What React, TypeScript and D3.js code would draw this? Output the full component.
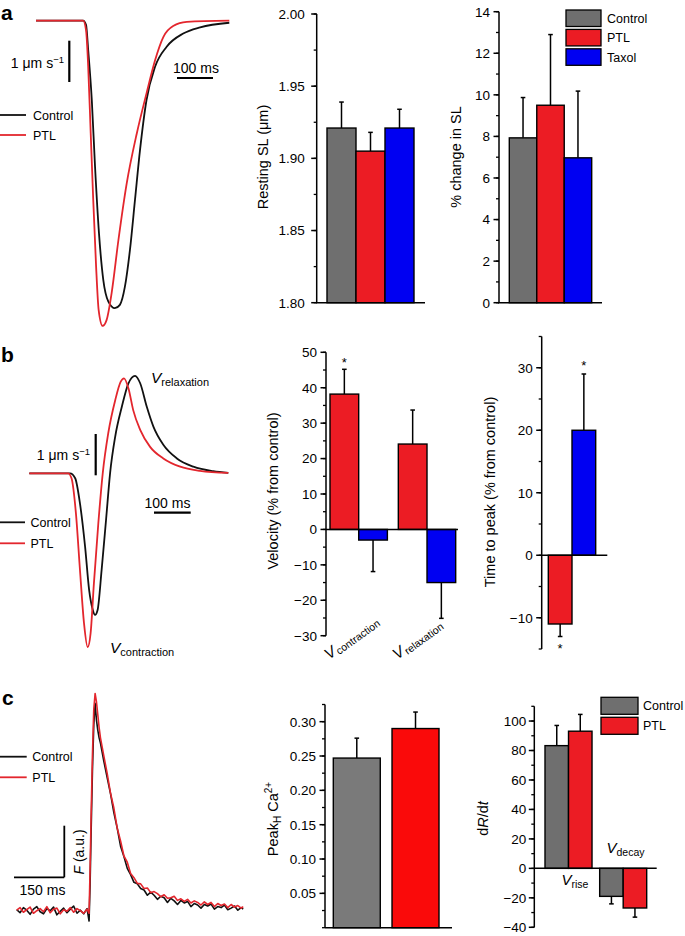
import React from 'react';
import * as d3 from 'd3';

const FONT = "'Liberation Sans', Arial, Helvetica, sans-serif";
const GRAY = '#6f6f6f';
const RED = '#ec1c24';
const BLUE = '#0000f2';
const PEAK_GRAY = '#7a7a7a';
const PEAK_RED = '#fa0a0a';
const TRACE_RED = '#e3262d';
const BLACK = '#111';

// ---------- panel a traces (time ms, velocity um/s) ----------
const aCtrlT = [0, 131, 139, 145, 155, 164, 175, 187, 201, 219, 233, 247, 261, 275, 289, 307, 331, 363, 409, 456, 537];
const aCtrlV = [0, 0, -0.1, -0.71, -1.92, -3.53, -5.15, -6.28, -6.8, -6.96, -6.88, -6.44, -5.55, -4.34, -3.13, -1.92, -1.11, -0.63, -0.31, -0.16, -0.05];
const aPtlT = [0, 131, 139, 145, 152, 159, 167, 174, 185, 196, 210, 229, 252, 280, 307, 331, 354, 381, 419, 537];
const aPtlV = [0, 0, -0.23, -1.11, -2.73, -4.34, -5.96, -7.0, -7.39, -7.25, -6.6, -5.31, -3.94, -2.73, -1.76, -0.95, -0.39, -0.13, -0.03, 0];

// ---------- panel b traces ----------
const bCtrlT = [0, 111, 125, 138, 152, 163, 173, 179, 186, 197, 209, 220, 234, 252, 270, 288, 302, 320, 338, 365, 402, 447, 501, 542];
const bCtrlV = [0, 0, -0.12, -0.73, -1.78, -2.83, -3.31, -3.43, -3.31, -2.34, -1.13, 0, 0.89, 1.61, 2.18, 2.36, 2.18, 1.61, 1.13, 0.69, 0.36, 0.16, 0.05, 0.01];
const bPtlT = [0, 106, 115, 127, 138, 149, 159, 167, 176, 188, 200, 215, 234, 249, 258, 270, 283, 302, 329, 365, 411, 465, 542];
const bPtlV = [0, 0, -0.12, -0.97, -2.34, -3.63, -4.21, -3.87, -2.66, -1.21, 0, 0.97, 1.77, 2.22, 2.3, 2.06, 1.53, 1.05, 0.64, 0.36, 0.16, 0.06, 0.01];

// ---------- panel c traces (time ms, F a.u.) ----------
const cT = [0, 10, 20, 30, 40, 50, 60, 70, 80, 90, 100, 110, 120, 130, 140, 150, 160, 170, 180, 190, 200, 210,
  216, 219, 222, 226, 230, 234, 238, 242, 246, 250,
  260, 270, 280, 290, 300, 310, 320, 330, 340, 350, 360, 370, 380, 390, 400, 410, 420, 430, 440, 450, 460, 470,
  480, 490, 500, 510, 520, 530, 540, 550, 560, 570, 580, 590, 600, 610, 620, 630, 640, 650, 660, 670, 676];
const cCtrl = [0.02, -0.04, 0.06, 0.01, -0.07, 0.03, 0.08, -0.02, -0.06, 0.04, 0.0, 0.07, -0.08, -0.01, 0.05, -0.04, 0.03, 0.09, -0.05, 0.01, -0.06, 0.04,
  -0.2, 0.5, 1.5, 2.7, 3.6, 4.02, 3.7, 3.5, 3.35, 3.25,
  2.9, 2.58, 2.27, 1.9, 1.6, 1.25, 1.05, 0.82, 0.7, 0.55, 0.52, 0.43, 0.4, 0.3, 0.36, 0.3, 0.22, 0.28, 0.25, 0.16, 0.24, 0.19,
  0.12, 0.2, 0.15, 0.18, 0.08, 0.14, 0.11, 0.05, 0.12, 0.09, 0.13, 0.03, 0.08, 0.06, 0.11, 0.02, 0.05, 0.09, 0.01, 0.06, 0.03];
const cPtl = [0.01, 0.06, -0.03, 0.02, 0.07, -0.05, 0.0, 0.04, -0.02, 0.08, -0.04, 0.03, 0.05, -0.06, 0.02, -0.01, 0.06, -0.03, 0.04, 0.0, -0.05, 0.03,
  -0.05, 0.8, 1.8, 3.0, 3.9, 4.21, 4.05, 3.8, 3.55, 3.35,
  3.0, 2.66, 2.28, 1.99, 1.6, 1.35, 1.06, 0.94, 0.72, 0.64, 0.53, 0.52, 0.43, 0.44, 0.35, 0.37, 0.33, 0.27, 0.31, 0.24, 0.25, 0.28,
  0.2, 0.23, 0.18, 0.22, 0.15, 0.19, 0.16, 0.11, 0.17, 0.12, 0.16, 0.08, 0.14, 0.1, 0.13, 0.06, 0.12, 0.07, 0.1, 0.05, 0.08];

// ---------- bar data ----------
const restingCats = ['Control', 'PTL', 'Taxol'];
const restingMean = [1.921, 1.905, 1.921];
const restingErr = [0.018, 0.013, 0.013];
const restingTicks = [1.8, 1.85, 1.9, 1.95, 2.0];

const pctCats = ['Control', 'PTL', 'Taxol'];
const pctMean = [7.93, 9.5, 6.97];
const pctErr = [1.94, 3.4, 3.21];
const pctTicks = [0, 2, 4, 6, 8, 10, 12, 14];

const velGroups = ['contraction', 'relaxation'];
const velSeries = ['PTL', 'Taxol'];
const velPTL = [38.2, 24.1];
const velPTLErr = [7.0, 9.6];
const velTaxol = [-3.0, -15.0];
const velTaxolErr = [8.9, 10.1];
const velTicks = [-30, -20, -10, 0, 10, 20, 30, 40, 50];

const ttpCats = ['PTL', 'Taxol'];
const ttpMean = [-11, 20];
const ttpErr = [2, 9];
const ttpTicks = [-10, 0, 10, 20, 30];

const peakCats = ['Control', 'PTL'];
const peakMean = [0.247, 0.29];
const peakErr = [0.029, 0.024];
const peakTicks = [0.05, 0.1, 0.15, 0.2, 0.25, 0.3];

const drGroups = ['rise', 'decay'];
const drSeries = ['Control', 'PTL'];
const drCtrl = [83.3, -19];
const drCtrlErr = [13.7, 5.1];
const drPtl = [93.1, -26.9];
const drPtlErr = [11.4, 6.2];
const drTicks = [-40, -20, 0, 20, 40, 60, 80, 100];

// ---------- helpers ----------
function tracePath(xs: any, ys: any, t: number[], v: number[], curve: any) {
  return d3.line<number>().x((_, i) => xs(t[i])).y((d) => ys(d)).curve(curve)(v) || '';
}

function YAxis({ y, x, ticks, minorStep, extent, fmt, gap = 9 }: any) {
  const [lo, hi] = extent;
  const minor = d3.range(lo, hi + minorStep * 0.01, minorStep);
  return (
    <g>
      <line x1={x} x2={x} y1={y(lo)} y2={y(hi)} stroke="#000" strokeWidth={1.5} />
      {minor.map((v: number) => (
        <line key={'m' + v} x1={x - 3} x2={x} y1={y(v)} y2={y(v)} stroke="#000" strokeWidth={1.3} />
      ))}
      {ticks.map((v: number) => (
        <g key={'t' + v}>
          <line x1={x - 5.5} x2={x} y1={y(v)} y2={y(v)} stroke="#000" strokeWidth={1.5} />
          <text x={x - gap} y={y(v)} dy="0.36em" textAnchor="end" fontSize={13.5}>{fmt(v)}</text>
        </g>
      ))}
    </g>
  );
}

function Bar({ x, w, y, v, err, fill, base }: any) {
  const y0 = y(base);
  const y1 = y(v);
  const cx = x + w / 2;
  const ye = y(v + Math.sign(v - base) * err);
  return (
    <g>
      <line x1={cx} x2={cx} y1={y1} y2={ye} stroke="#000" strokeWidth={1.5} />
      <line x1={cx - 2.3} x2={cx + 2.3} y1={ye} y2={ye} stroke="#000" strokeWidth={1.5} />
      <rect x={x} y={Math.min(y0, y1)} width={w} height={Math.abs(y1 - y0)} fill={fill} stroke="#000" strokeWidth={1.4} />
    </g>
  );
}

function RotLabel({ x, y, children }: any) {
  return (
    <text transform={`translate(${x},${y}) rotate(-90)`} textAnchor="middle" fontSize={14.5}>{children}</text>
  );
}

export default function App() {
  // ----- panel a traces -----
  const ax = d3.scaleLinear().domain([0, 537]).range([36, 229.3]);
  const ay = d3.scaleLinear().domain([0, 1]).range([20.7, 20.7 - 41.3]);
  // ----- panel b traces -----
  const bx = d3.scaleLinear().domain([0, 542]).range([29.3, 228.3]);
  const by = d3.scaleLinear().domain([0, 1]).range([473.3, 473.3 - 41.3]);
  // ----- panel c traces -----
  const cx = d3.scaleLinear().domain([0, 676]).range([16.7, 243.2]);
  const cy = d3.scaleLinear().domain([0, 1]).range([910.7, 910.7 - 51.6]);

  // ----- resting SL -----
  const rY = d3.scaleLinear().domain([1.8, 2.0]).range([302.7, 14]);
  const rX = d3.scaleBand().domain(restingCats).range([327, 414]).padding(0);
  const rColors = [GRAY, RED, BLUE];
  // ----- % change -----
  const pY = d3.scaleLinear().domain([0, 14]).range([302.7, 11.7]);
  const pX = d3.scaleBand().domain(pctCats).range([509.3, 591.7]).padding(0);
  // ----- velocity -----
  const vY = d3.scaleLinear().domain([-30, 50]).range([635.7, 352.3]);
  const vXo = d3.scaleBand().domain(velGroups).range([330, 455.7]).paddingInner(0.16);
  const vXi = d3.scaleBand().domain(velSeries).range([0, vXo.bandwidth()]).padding(0);
  // ----- time to peak -----
  const tY = d3.scaleLinear().domain([-15, 35]).range([649, 336.5]);
  const tX = d3.scaleBand().domain(ttpCats).range([548.3, 595.7]).padding(0);
  // ----- peak Ca -----
  const kY = d3.scaleLinear().domain([0, 0.325]).range([927.7, 704.5]);
  const kX = d3.scaleBand().domain(peakCats).range([333.3, 439]).paddingInner(0.2);
  // ----- dR/dt -----
  const dY = d3.scaleLinear().domain([-40, 110]).range([927.3, 706.3]);
  const dXo = d3.scaleBand().domain(drGroups).range([545, 646.7]).paddingInner(0.14);
  const dXi = d3.scaleBand().domain(drSeries).range([0, dXo.bandwidth()]).padding(0);

  const f2 = d3.format('.2f');
  const fd = d3.format('d');

  const velStarX = vXo(velGroups[0])! + vXi('PTL')! + vXi.bandwidth() / 2;
  const aBar = ay(0) - ay(1);

  return (
    <svg width={685} height={936} style={{ position: 'absolute', left: 0, top: 0, background: '#fff' }} fontFamily={FONT}>
      <rect x={0} y={0} width={685} height={936} fill="#fff" />

      {/* panel labels */}
      <text x={1} y={20} fontSize={21} fontWeight="bold">a</text>
      <text x={1} y={361.7} fontSize={21} fontWeight="bold">b</text>
      <text x={2} y={705} fontSize={21} fontWeight="bold">c</text>

      {/* ================= panel a traces ================= */}
      <path d={tracePath(ax, ay, aCtrlT, aCtrlV, d3.curveMonotoneX)} fill="none" stroke={BLACK} strokeWidth={1.8} />
      <path d={tracePath(ax, ay, aPtlT, aPtlV, d3.curveMonotoneX)} fill="none" stroke={TRACE_RED} strokeWidth={1.8} />
      <line x1={69.3} x2={69.3} y1={40.7} y2={40.7 + aBar} stroke="#000" strokeWidth={2.2} />
      <text x={64} y={68} textAnchor="end" fontSize={14}>1 μm s<tspan dy={-5} fontSize={9.5}>−1</tspan></text>
      <line x1={177} x2={177 + ax(100) - ax(0)} y1={78} y2={78} stroke="#000" strokeWidth={2.2} />
      <text x={196} y={73} textAnchor="middle" fontSize={14}>100 ms</text>
      <line x1={0} x2={26} y1={115} y2={115} stroke={BLACK} strokeWidth={1.8} />
      <text x={33} y={119.5} fontSize={12.5}>Control</text>
      <line x1={0} x2={26} y1={135} y2={135} stroke={TRACE_RED} strokeWidth={1.8} />
      <text x={33} y={139.5} fontSize={12.5}>PTL</text>

      {/* ================= resting SL ================= */}
      {restingCats.map((c, i) => (
        <Bar key={c} x={rX(c)} w={rX.bandwidth()} y={rY} v={restingMean[i]} err={restingErr[i]} fill={rColors[i]} base={1.8} />
      ))}
      <YAxis y={rY} x={316.7} ticks={restingTicks} minorStep={0.025} extent={[1.8, 2.0]} fmt={f2} gap={12} />
      <line x1={316} x2={425} y1={rY(1.8)} y2={rY(1.8)} stroke="#000" strokeWidth={1.5} />
      <RotLabel x={268} y={157}>Resting SL (μm)</RotLabel>

      {/* ================= % change ================= */}
      {pctCats.map((c, i) => (
        <Bar key={c} x={pX(c)} w={pX.bandwidth()} y={pY} v={pctMean[i]} err={pctErr[i]} fill={rColors[i]} base={0} />
      ))}
      <YAxis y={pY} x={499} ticks={pctTicks} minorStep={1} extent={[0, 14]} fmt={fd} />
      <line x1={498} x2={602} y1={pY(0)} y2={pY(0)} stroke="#000" strokeWidth={1.5} />
      <RotLabel x={460.5} y={157}>% change in SL</RotLabel>
      {pctCats.map((c, i) => (
        <g key={'lg' + c}>
          <rect x={566} y={10 + i * 19.4} width={35} height={16.5} fill={rColors[i]} stroke="#000" strokeWidth={1.3} />
          <text x={607} y={10 + i * 19.4 + 12.8} fontSize={12.5}>{c}</text>
        </g>
      ))}

      {/* ================= panel b traces ================= */}
      <path d={tracePath(bx, by, bCtrlT, bCtrlV, d3.curveMonotoneX)} fill="none" stroke={BLACK} strokeWidth={1.8} />
      <path d={tracePath(bx, by, bPtlT, bPtlV, d3.curveMonotoneX)} fill="none" stroke={TRACE_RED} strokeWidth={1.8} />
      <line x1={95.7} x2={95.7} y1={by(0) + 2} y2={by(1) + 2} stroke="#000" strokeWidth={2.2} />
      <text x={90} y={460} textAnchor="end" fontSize={14}>1 μm s<tspan dy={-5} fontSize={9.5}>−1</tspan></text>
      <line x1={154} x2={154 + bx(100) - bx(0)} y1={512.7} y2={512.7} stroke="#000" strokeWidth={2.2} />
      <text x={167.5} y={508} textAnchor="middle" fontSize={14}>100 ms</text>
      <line x1={0} x2={25} y1={522.3} y2={522.3} stroke={BLACK} strokeWidth={1.8} />
      <text x={30.5} y={526.8} fontSize={12.5}>Control</text>
      <line x1={0} x2={25} y1={543.3} y2={543.3} stroke={TRACE_RED} strokeWidth={1.8} />
      <text x={30.5} y={547.8} fontSize={12.5}>PTL</text>
      <text x={151} y={383} fontSize={15.5} fontStyle="italic">V<tspan fontSize={11} fontStyle="normal" dy={3}>relaxation</tspan></text>
      <text x={110} y={653} fontSize={15.5} fontStyle="italic">V<tspan fontSize={11} fontStyle="normal" dy={3}>contraction</tspan></text>

      {/* ================= velocity ================= */}
      {velGroups.map((g, gi) => (
        <g key={g}>
          <Bar x={vXo(g)! + vXi('PTL')!} w={vXi.bandwidth()} y={vY} v={velPTL[gi]} err={velPTLErr[gi]} fill={RED} base={0} />
          <Bar x={vXo(g)! + vXi('Taxol')!} w={vXi.bandwidth()} y={vY} v={velTaxol[gi]} err={velTaxolErr[gi]} fill={BLUE} base={0} />
          <text transform={`translate(${vXo(g)! - 1},${660}) rotate(-36)`} fontSize={15.5} fontStyle="italic">
            V<tspan fontSize={10.5} fontStyle="normal" dy={2} dx={1}>{g}</tspan>
          </text>
        </g>
      ))}
      <YAxis y={vY} x={326} ticks={velTicks} minorStep={5} extent={[-30, 50]} fmt={fd} />
      <line x1={326} x2={458} y1={vY(0)} y2={vY(0)} stroke="#000" strokeWidth={1.5} />
      <text x={velStarX} y={vY(velPTL[0] + velPTLErr[0]) - 2} textAnchor="middle" fontSize={13}>*</text>
      <RotLabel x={277.5} y={491}>Velocity (% from control)</RotLabel>

      {/* ================= time to peak ================= */}
      <Bar x={tX('PTL')} w={tX.bandwidth()} y={tY} v={ttpMean[0]} err={ttpErr[0]} fill={RED} base={0} />
      <Bar x={tX('Taxol')} w={tX.bandwidth()} y={tY} v={ttpMean[1]} err={ttpErr[1]} fill={BLUE} base={0} />
      <YAxis y={tY} x={541.7} ticks={ttpTicks} minorStep={5} extent={[-15, 35]} fmt={fd} />
      <line x1={541.7} x2={607.3} y1={tY(0)} y2={tY(0)} stroke="#000" strokeWidth={1.5} />
      <text x={tX('Taxol')! + tX.bandwidth() / 2} y={tY(ttpMean[1] + ttpErr[1]) - 4.5} textAnchor="middle" fontSize={13}>*</text>
      <text x={tX('PTL')! + tX.bandwidth() / 2} y={tY(ttpMean[0] - ttpErr[0]) + 16} textAnchor="middle" fontSize={13}>*</text>
      <RotLabel x={495} y={492}>Time to peak (% from control)</RotLabel>

      {/* ================= panel c traces ================= */}
      <path d={tracePath(cx, cy, cT, cCtrl, d3.curveLinear)} fill="none" stroke={BLACK} strokeWidth={1.6} strokeLinejoin="round" />
      <path d={tracePath(cx, cy, cT, cPtl, d3.curveLinear)} fill="none" stroke={TRACE_RED} strokeWidth={1.6} strokeLinejoin="round" />
      <line x1={14} x2={14 + cx(150) - cx(0)} y1={877.3} y2={877.3} stroke="#000" strokeWidth={1.8} />
      <line x1={64.3} x2={64.3} y1={877.3} y2={877.3 - (cy(0) - cy(1))} stroke="#000" strokeWidth={1.8} />
      <text x={42.5} y={895} textAnchor="middle" fontSize={14}>150 ms</text>
      <text transform={`translate(83.5,852) rotate(-90)`} textAnchor="middle" fontSize={14}>
        <tspan fontStyle="italic">F</tspan> (a.u.)
      </text>
      <line x1={0} x2={26.7} y1={756.7} y2={756.7} stroke={BLACK} strokeWidth={1.8} />
      <text x={32.3} y={761.2} fontSize={12.5}>Control</text>
      <line x1={0} x2={26.7} y1={777.3} y2={777.3} stroke={TRACE_RED} strokeWidth={1.8} />
      <text x={32.3} y={781.8} fontSize={12.5}>PTL</text>

      {/* ================= peak Ca ================= */}
      <Bar x={kX('Control')} w={kX.bandwidth()} y={kY} v={peakMean[0]} err={peakErr[0]} fill={PEAK_GRAY} base={0} />
      <Bar x={kX('PTL')} w={kX.bandwidth()} y={kY} v={peakMean[1]} err={peakErr[1]} fill={PEAK_RED} base={0} />
      <YAxis y={kY} x={325} ticks={peakTicks} minorStep={0.025} extent={[0, 0.325]} fmt={f2} />
      <line x1={325} x2={452} y1={kY(0)} y2={kY(0)} stroke="#000" strokeWidth={1.5} />
      <RotLabel x={277.5} y={819}>
        Peak<tspan fontSize={10} dy={3}>H</tspan><tspan dy={-3}> Ca</tspan><tspan fontSize={10} dy={-6}>2+</tspan>
      </RotLabel>

      {/* ================= dR/dt ================= */}
      {drGroups.map((g, gi) => (
        <g key={g}>
          <Bar x={dXo(g)! + dXi('Control')!} w={dXi.bandwidth()} y={dY} v={drCtrl[gi]} err={drCtrlErr[gi]} fill={GRAY} base={0} />
          <Bar x={dXo(g)! + dXi('PTL')!} w={dXi.bandwidth()} y={dY} v={drPtl[gi]} err={drPtlErr[gi]} fill={RED} base={0} />
        </g>
      ))}
      <YAxis y={dY} x={534.3} ticks={drTicks} minorStep={10} extent={[-40, 110]} fmt={fd} gap={8} />
      <line x1={534.3} x2={656.7} y1={dY(0)} y2={dY(0)} stroke="#000" strokeWidth={1.5} />
      <text x={561.5} y={885} fontSize={15} fontStyle="italic">V<tspan fontSize={10.5} fontStyle="normal" dy={3}>rise</tspan></text>
      <text x={606.5} y={853} fontSize={15} fontStyle="italic">V<tspan fontSize={10.5} fontStyle="normal" dy={3}>decay</tspan></text>
      <RotLabel x={488} y={818.5}>
        d<tspan fontStyle="italic">R</tspan>/d<tspan fontStyle="italic">t</tspan>
      </RotLabel>
      {drSeries.map((s, i) => (
        <g key={'dl' + s}>
          <rect x={601} y={697.3 + i * 20} width={37} height={17} fill={i === 0 ? GRAY : RED} stroke="#000" strokeWidth={1.3} />
          <text x={643} y={697.3 + i * 20 + 13} fontSize={12.5}>{s}</text>
        </g>
      ))}
    </svg>
  );
}
